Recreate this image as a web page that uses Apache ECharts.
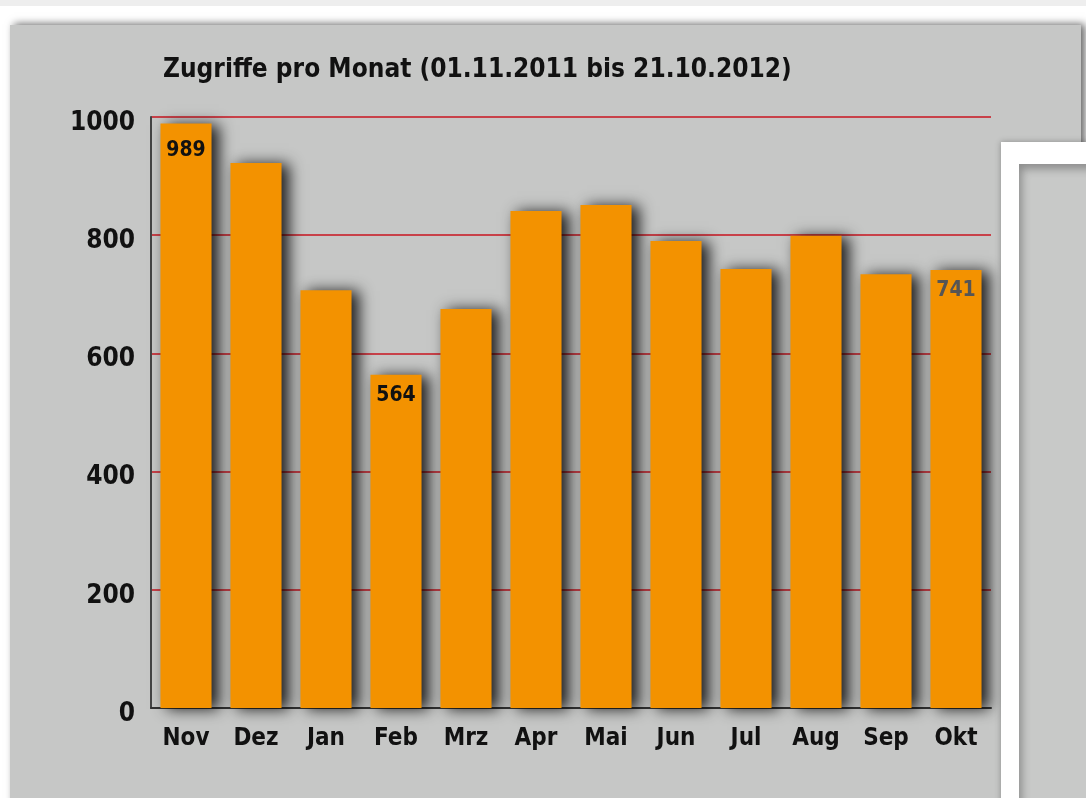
<!DOCTYPE html>
<html>
<head>
<meta charset="utf-8">
<style>
  html, body { margin: 0; padding: 0; background: #ffffff; overflow: hidden; }
  .strip { position: absolute; left: 0; top: 0; width: 1086px; height: 6px; background: #eeeeee; }
  .panel { position: absolute; left: 10px; top: 25px; width: 1071px; height: 800px; background: #c6c7c6;
           box-shadow: 4px -1px 8px rgba(0,0,0,0.6); }
  .side { position: absolute; left: 1001px; top: 142px; width: 100px; height: 700px; background: #ffffff;
          box-shadow: 0 0 6px rgba(0,0,0,0.3); z-index: 5; }
  .side-inner { position: absolute; left: 18px; top: 22px; width: 90px; height: 700px; background: #c8c9c8;
                box-shadow: inset 3px 5px 8px rgba(0,0,0,0.3); }
  #chart { position: absolute; left: 0; top: 0; width: 1086px; height: 798px; z-index: 2; }
</style>
<script src="https://cdn.jsdelivr.net/npm/echarts@6/dist/echarts.min.js"></script>
</head>
<body>
<div class="strip"></div>
<div class="panel"></div>
<div class="side"><div class="side-inner"></div></div>
<div id="chart"></div>
<script>
const months = ['Nov', 'Dez', 'Jan', 'Feb', 'Mrz', 'Apr', 'Mai', 'Jun', 'Jul', 'Aug', 'Sep', 'Okt'];
const visits = [989, 922, 707, 564, 675, 841, 851, 790, 743, 799, 734, 741];
// only these bars carry a number: [text colour, distance from bar top]
const labelled = { 0: ['#111111', 17], 3: ['#111111', 10], 11: ['#555555', 10] };
const yTicks = [0, 200, 400, 600, 800, 1000];

const font = '"DejaVu Sans Condensed", "DejaVu Sans", sans-serif';

const chart = echarts.init(document.getElementById('chart'));

chart.setOption({
  backgroundColor: 'transparent',
  animation: false,
  title: {
    text: 'Zugriffe pro Monat (01.11.2011 bis 21.10.2012)',
    left: 158,
    top: 52,
    textStyle: { fontFamily: font, fontSize: 26, fontWeight: 'bold', color: '#111111' },
  },
  grid: { left: 151, right: 95, top: 117, bottom: 90 },
  xAxis: {
    type: 'category',
    data: months,
    axisLine: { lineStyle: { color: '#333333', width: 2 } },
    axisTick: { show: false },
    axisLabel: { fontFamily: font, fontSize: 24, fontWeight: 'bold', color: '#111111', margin: 19 },
  },
  yAxis: {
    type: 'value',
    min: yTicks[0],
    max: yTicks[yTicks.length - 1],
    interval: 200,
    axisLine: { show: true, lineStyle: { color: '#444444', width: 2 } },
    axisTick: { show: false },
    axisLabel: {
      fontFamily: font, fontSize: 26, fontWeight: 'bold', color: '#111111', margin: 16,
      verticalAlign: 'top',
      lineHeight: 12,
      formatter: (v) => String(v),
    },
    splitLine: { lineStyle: { color: '#c8141f', width: 1.6 } },
  },
  series: [{
    type: 'bar',
    barWidth: '73%',
    data: visits.map((v, i) => ({
      value: v,
      label: labelled[i] ? {
        show: true,
        position: 'insideTop',
        distance: labelled[i][1],
        color: labelled[i][0],
        fontFamily: font,
        fontSize: 21,
        fontWeight: 'bold',
      } : { show: false },
    })),
    itemStyle: {
      color: '#f39200',
      shadowBlur: 14,
      shadowColor: 'rgba(0,0,0,0.85)',
      shadowOffsetX: 7,
      shadowOffsetY: 1,
    },
  }],
});
</script>
</body>
</html>
